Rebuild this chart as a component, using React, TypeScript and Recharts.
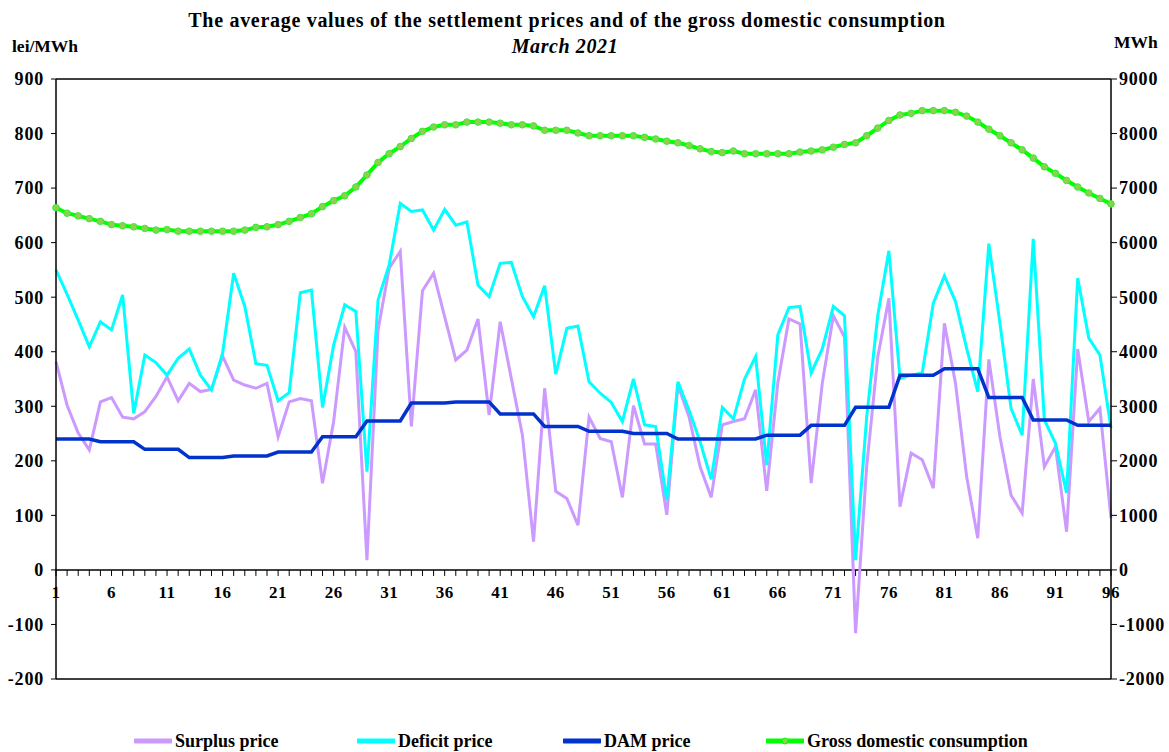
import React from "react";
import {
  LineChart,
  Line,
  XAxis,
  YAxis,
  ReferenceLine,
} from "recharts";

const intervals: number[] = Array.from({ length: 96 }, (_, i) => i + 1);

const surplusPrice: number[] = [
  382, 302, 251, 220, 308, 316, 280, 277, 290, 318, 354, 310, 342, 327, 331, 392,
  348, 339, 333, 342, 244, 308, 314, 310, 159, 272, 445, 400, 18, 440, 553, 584,
  263, 512, 544, 464, 385, 403, 460, 284, 455, 351, 247, 52, 333, 144, 131, 82,
  280, 241, 235, 133, 301, 231, 231, 101, 339, 281, 189, 133, 266, 272, 277, 330,
  145, 343, 460, 451, 159, 342, 466, 427, -116, 190, 391, 498, 116, 214, 202, 150,
  452, 342, 171, 58, 386, 244, 137, 104, 350, 189, 226, 70, 405, 272, 296, 95,
];

const deficitPrice: number[] = [
  550, 505, 458, 409, 455, 440, 504, 287, 394, 380, 357, 388, 405, 357, 330, 397,
  544, 483, 378, 375, 310, 325, 508, 513, 298, 412, 486, 474, 180, 495, 559, 672,
  657, 660, 623, 661, 632, 638, 522, 501, 562, 564, 501, 464, 521, 359, 443, 447,
  345, 324, 307, 272, 350, 266, 263, 128, 345, 293, 235, 166, 298, 277, 350, 391,
  192, 431, 481, 483, 361, 405, 483, 466, 18, 280, 467, 585, 351, 357, 361, 489,
  539, 492, 406, 327, 598, 452, 296, 247, 607, 275, 232, 141, 535, 425, 394, 260,
];

const damPrice: number[] = [
  240, 240, 240, 240, 235, 235, 235, 235, 221, 221, 221, 221, 206, 206, 206, 206,
  209, 209, 209, 209, 216, 216, 216, 216, 244, 244, 244, 244, 273, 273, 273, 273,
  306, 306, 306, 306, 308, 308, 308, 308, 286, 286, 286, 286, 263, 263, 263, 263,
  254, 254, 254, 254, 250, 250, 250, 250, 240, 240, 240, 240, 240, 240, 240, 240,
  247, 247, 247, 247, 265, 265, 265, 265, 298, 298, 298, 298, 357, 357, 357, 357,
  369, 369, 369, 369, 316, 316, 316, 316, 275, 275, 275, 275, 265, 265, 265, 265,
];

const grossConsumption: number[] = [
  6640, 6540, 6490, 6440, 6390, 6330, 6310, 6290, 6260, 6230, 6240, 6210, 6210, 6210, 6210, 6210,
  6210, 6230, 6280, 6290, 6330, 6390, 6460, 6530, 6660, 6770, 6860, 7020, 7240, 7470, 7630, 7760,
  7910, 8040, 8120, 8160, 8160, 8210, 8210, 8210, 8190, 8160, 8160, 8140, 8060, 8060, 8060, 8010,
  7960, 7960, 7960, 7960, 7960, 7930, 7900, 7860, 7830, 7780, 7720, 7670, 7650, 7680, 7630, 7630,
  7630, 7630, 7630, 7660, 7680, 7700, 7750, 7800, 7830, 7960, 8100, 8240, 8340, 8370, 8420, 8420,
  8420, 8390, 8320, 8210, 8080, 7960, 7830, 7700, 7550, 7390, 7270, 7140, 7020, 6910, 6810, 6710,
];

const leftTicks: number[] = [-200, -100, 0, 100, 200, 300, 400, 500, 600, 700, 800, 900];
const rightTicks: number[] = [-2000, -1000, 0, 1000, 2000, 3000, 4000, 5000, 6000, 7000, 8000, 9000];
const xLabelEvery = 5;

const data = intervals.map((idx, i) => ({
  idx,
  surplus: surplusPrice[i],
  deficit: deficitPrice[i],
  dam: damPrice[i],
  gross: grossConsumption[i],
}));

const W = 1169;
const H = 752;
const M_TOP = 79;
const X_AXIS_H = 1;
const M_BOTTOM = 72;
const PLOT_H = H - M_TOP - M_BOTTOM - X_AXIS_H;
const Y_MIN = leftTicks[0];
const Y_MAX = leftTicks[leftTicks.length - 1];
const ZERO_UP = (PLOT_H * (0 - Y_MIN)) / (Y_MAX - Y_MIN);

const FONT = "'Liberation Serif', 'Times New Roman', serif";

const COLORS = {
  surplus: "#CC99FF",
  deficit: "#00FFFF",
  dam: "#0033CC",
  gross: "#00FF00",
};

const renderXTick = (props: any) => {
  const { x, y, payload } = props;
  const y0 = Number(y) - ZERO_UP;
  const v = Number(payload && payload.value);
  const show = (v - 1) % xLabelEvery === 0;
  return (
    <g key={`xt-${v}`}>
      <line x1={x} x2={x} y1={y0} y2={y0 + 6} stroke="#000" strokeWidth={1} />
      {show && (
        <text
          x={x}
          y={y0 + 28}
          textAnchor="middle"
          fontFamily={FONT}
          fontWeight="bold"
          fontSize={17}
          letterSpacing={0.5}
          fill="#000"
        >
          {v}
        </text>
      )}
    </g>
  );
};

const tickStyle = {
  fontFamily: FONT,
  fontWeight: "bold",
  fontSize: 18,
  letterSpacing: 0.8,
  fill: "#000",
};

const LegendItem = ({ color, label, dot }: { color: string; label: string; dot?: boolean }) => (
  <div style={{ display: "flex", alignItems: "center" }}>
    <svg width={38} height={10} style={{ marginRight: 3 }}>
      <line x1={1} x2={37} y1={5} y2={5} stroke={color} strokeWidth={5} strokeLinecap="round" />
      {dot && <circle cx={19} cy={5} r={3} fill="#8FD14F" stroke={color} />}
    </svg>
    <span>{label}</span>
  </div>
);

export default function App() {
  return (
    <div
      style={{
        position: "absolute",
        left: 0,
        top: 0,
        width: W,
        height: H,
        background: "#fff",
        fontFamily: FONT,
      }}
    >
      <div
        style={{
          position: "absolute",
          left: 0,
          width: 1134,
          top: 8,
          textAlign: "center",
          fontWeight: "bold",
          fontSize: 20,
          letterSpacing: 0.7,
          lineHeight: "24px",
          whiteSpace: "nowrap",
        }}
      >
        The average values of the settlement prices and of the gross domestic consumption
      </div>
      <div
        style={{
          position: "absolute",
          left: 0,
          width: 1130,
          top: 34,
          textAlign: "center",
          fontWeight: "bold",
          fontStyle: "italic",
          fontSize: 20,
          letterSpacing: 0.6,
          lineHeight: "24px",
        }}
      >
        March 2021
      </div>
      <div
        style={{
          position: "absolute",
          left: 12,
          top: 35,
          fontWeight: "bold",
          fontSize: 17.5,
          lineHeight: "22px",
        }}
      >
        lei/MWh
      </div>
      <div
        style={{
          position: "absolute",
          left: 1114,
          top: 31,
          fontWeight: "bold",
          fontSize: 17.5,
          lineHeight: "22px",
        }}
      >
        MWh
      </div>

      <LineChart
        width={W}
        height={H}
        data={data}
        margin={{ top: M_TOP, right: 0, bottom: M_BOTTOM, left: 0 }}
      >
        <XAxis
          dataKey="idx"
          height={X_AXIS_H}
          axisLine={false}
          tickLine={false}
          tickSize={0}
          tickMargin={0}
          interval={0}
          tick={renderXTick}
        />
        <YAxis
          yAxisId="left"
          orientation="left"
          width={56}
          domain={[Y_MIN, Y_MAX]}
          ticks={leftTicks}
          interval={0}
          axisLine={{ stroke: "#000", strokeWidth: 1.5 }}
          tickLine={{ stroke: "#000" }}
          tickSize={5}
          tickMargin={7}
          tick={tickStyle}
        />
        <YAxis
          yAxisId="right"
          orientation="right"
          width={58}
          domain={[rightTicks[0], rightTicks[rightTicks.length - 1]]}
          ticks={rightTicks}
          interval={0}
          axisLine={{ stroke: "#000", strokeWidth: 1.5 }}
          tickLine={{ stroke: "#000" }}
          tickSize={6}
          tickMargin={2}
          tick={tickStyle}
        />
        <ReferenceLine yAxisId="left" y={Y_MAX} stroke="#404040" strokeWidth={2} />
        <ReferenceLine yAxisId="left" y={Y_MIN} stroke="#404040" strokeWidth={2} />
        <ReferenceLine yAxisId="left" y={0} stroke="#404040" strokeWidth={2} />
        <Line
          yAxisId="left"
          type="linear"
          dataKey="surplus"
          stroke={COLORS.surplus}
          strokeWidth={3}
          dot={false}
          isAnimationActive={false}
        />
        <Line
          yAxisId="left"
          type="linear"
          dataKey="deficit"
          stroke={COLORS.deficit}
          strokeWidth={3}
          dot={false}
          isAnimationActive={false}
        />
        <Line
          yAxisId="left"
          type="linear"
          dataKey="dam"
          stroke={COLORS.dam}
          strokeWidth={3.5}
          dot={false}
          isAnimationActive={false}
        />
        <Line
          yAxisId="right"
          type="linear"
          dataKey="gross"
          stroke={COLORS.gross}
          strokeWidth={4}
          dot={{ r: 3.3, fill: "#8FD14F", stroke: "#33EE33", strokeWidth: 1 }}
          isAnimationActive={false}
        />
      </LineChart>

      <div
        style={{
          position: "absolute",
          left: 0,
          top: 729,
          height: 24,
          fontWeight: "bold",
          fontSize: 18,
          lineHeight: "24px",
        }}
      >
        <div style={{ position: "absolute", left: 134, top: 0, whiteSpace: "nowrap" }}>
          <LegendItem color={COLORS.surplus} label="Surplus price" />
        </div>
        <div style={{ position: "absolute", left: 357, top: 0, whiteSpace: "nowrap" }}>
          <LegendItem color={COLORS.deficit} label="Deficit price" />
        </div>
        <div style={{ position: "absolute", left: 563, top: 0, whiteSpace: "nowrap" }}>
          <LegendItem color={COLORS.dam} label="DAM price" />
        </div>
        <div style={{ position: "absolute", left: 766, top: 0, whiteSpace: "nowrap" }}>
          <LegendItem color={COLORS.gross} label="Gross domestic consumption" dot />
        </div>
      </div>
    </div>
  );
}
